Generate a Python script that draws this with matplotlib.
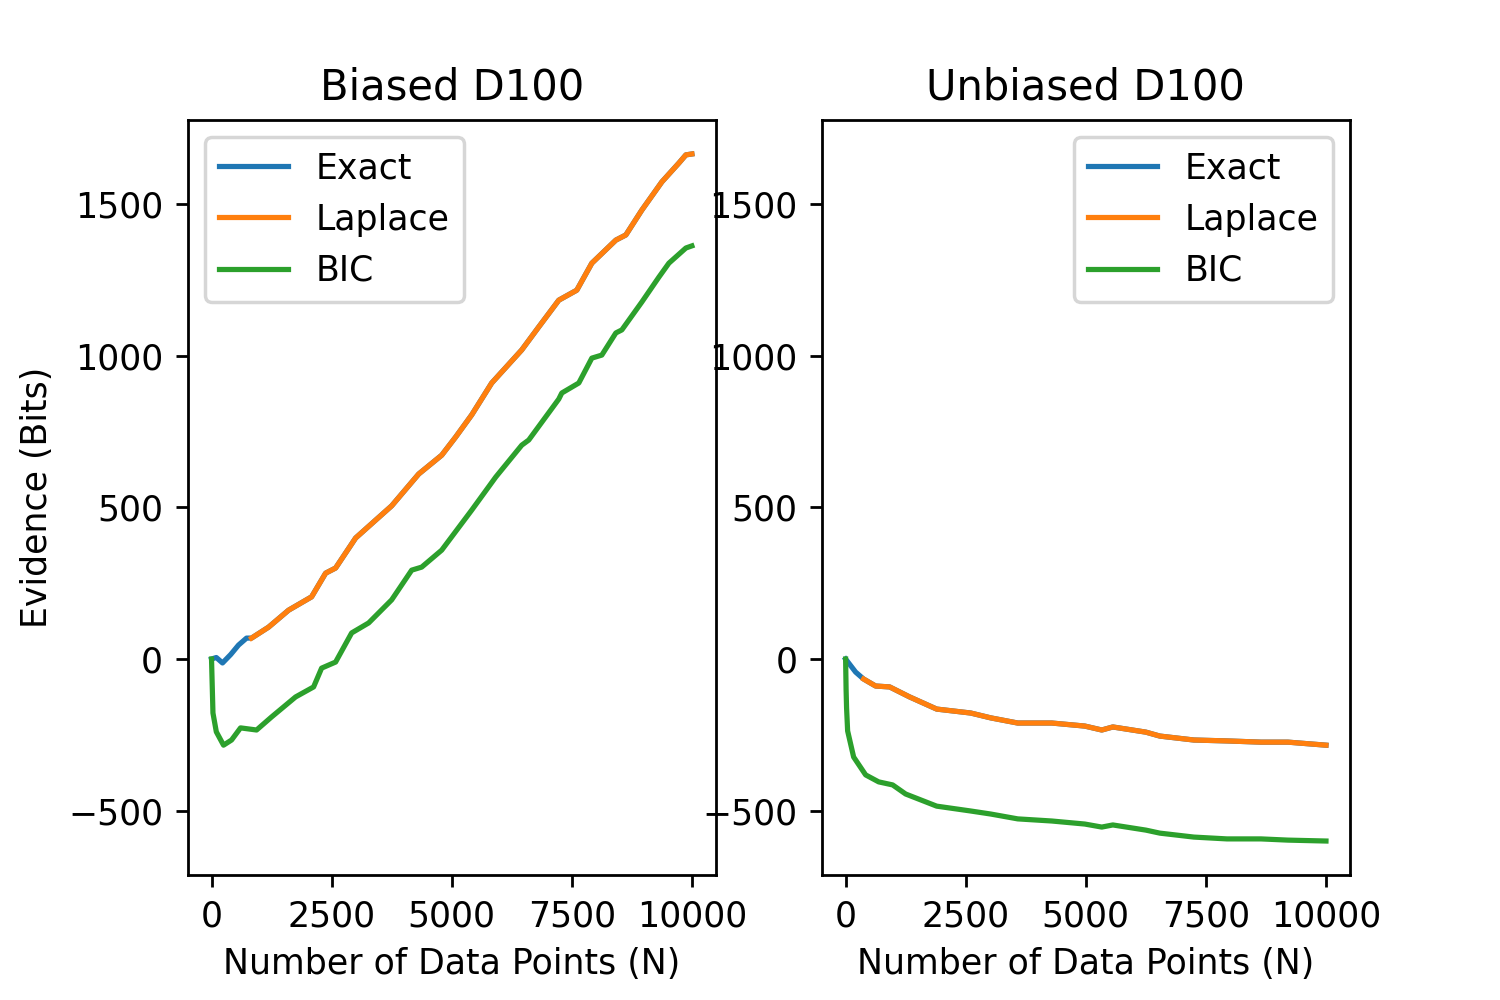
import matplotlib
matplotlib.use("Agg")
import matplotlib.pyplot as plt

# ---- Biased D100 (left panel) ----
b_exact_n = [0, 100, 229, 400, 562, 729, 833, 1187, 1604, 2083, 2375, 2583, 3000, 3417, 3750,
             4313, 4792, 5083, 5417, 5833, 6458, 6813, 7229, 7604, 7917, 8417, 8625, 8958,
             9375, 9729, 9875, 10000]
b_exact_v = [0, 5, -13, 15, 46, 69, 69, 105, 161, 205, 283, 300, 399, 458, 505,
             610, 672, 732, 805, 910, 1019, 1095, 1183, 1216, 1305, 1381, 1398, 1480,
             1573, 1635, 1662, 1665]

b_laplace_n = [833, 1187, 1604, 2083, 2375, 2583, 3000, 3417, 3750, 4313, 4792, 5083, 5417,
               5833, 6458, 6813, 7229, 7604, 7917, 8417, 8625, 8958, 9375, 9729, 9875, 10000]
b_laplace_v = [69, 105, 161, 205, 283, 300, 399, 458, 505, 610, 672, 732, 805,
               910, 1019, 1095, 1183, 1216, 1305, 1381, 1398, 1480, 1573, 1635, 1662, 1665]

b_bic_n = [0, 30, 100, 250, 417, 604, 938, 1250, 1750, 2125, 2292, 2583, 2917, 3271, 3750,
           4167, 4375, 4792, 5417, 5917, 6458, 6604, 7229, 7292, 7646, 7917, 8125, 8417,
           8542, 8958, 9313, 9521, 9875, 10000]
b_bic_v = [0, -178, -240, -284, -267, -227, -234, -191, -125, -92, -30, -10, 86, 119, 195,
           293, 303, 359, 491, 600, 705, 722, 857, 877, 910, 992, 1002, 1075,
           1085, 1177, 1259, 1305, 1355, 1362]

# ---- Unbiased D100 (right panel) ----
u_exact_n = [0, 208, 375, 625, 917, 1333, 1896, 2604, 3021, 3583, 4292, 4979, 5333, 5563,
             6250, 6542, 7250, 7938, 8646, 9208, 10000]
u_exact_v = [0, -43, -66, -89, -92, -125, -165, -178, -194, -211, -211, -221, -234, -224,
             -241, -254, -267, -270, -274, -274, -284]

u_laplace_n = [375, 625, 917, 1333, 1896, 2604, 3021, 3583, 4292, 4979, 5333, 5563,
               6250, 6542, 7250, 7938, 8646, 9208, 10000]
u_laplace_v = [-66, -89, -92, -125, -165, -178, -194, -211, -211, -221, -234, -224,
               -241, -254, -267, -270, -274, -274, -284]

u_bic_n = [0, 10, 20, 42, 167, 417, 688, 979, 1250, 1896, 2604, 3021, 3583, 4292, 4979,
           5333, 5563, 6250, 6542, 7250, 7938, 8646, 9208, 10000]
u_bic_v = [0, -100, -161, -237, -323, -382, -405, -415, -445, -485, -501, -511, -527, -534,
           -544, -554, -547, -564, -574, -587, -593, -593, -597, -600]

titles = ["Biased D100", "Unbiased D100"]
legend_labels = ["Exact", "Laplace", "BIC"]

fig, axes = plt.subplots(1, 2, figsize=(6, 4), dpi=250)
fig.subplots_adjust(left=0.125, right=0.9, bottom=0.125, top=0.88, wspace=0.2)

panels = [
    (b_exact_n, b_exact_v, b_laplace_n, b_laplace_v, b_bic_n, b_bic_v, "upper left"),
    (u_exact_n, u_exact_v, u_laplace_n, u_laplace_v, u_bic_n, u_bic_v, "upper right"),
]

for ax, title, (en, ev, ln, lv, bn, bv, loc) in zip(axes, titles, panels):
    ax.plot(en, ev, color="#1f77b4", label=legend_labels[0])
    ax.plot(ln, lv, color="#ff7f0e", label=legend_labels[1])
    ax.plot(bn, bv, color="#2ca02c", label=legend_labels[2])
    ax.set_title(title)
    ax.set_xlabel("Number of Data Points (N)")
    ax.set_xlim(-500, 10500)
    ax.set_ylim(-712, 1777)
    ax.set_xticks([0, 2500, 5000, 7500, 10000])
    ax.set_yticks([-500, 0, 500, 1000, 1500])
    ax.legend(loc=loc)

axes[0].set_ylabel("Evidence (Bits)")

fig.savefig("out.png", dpi=250)
